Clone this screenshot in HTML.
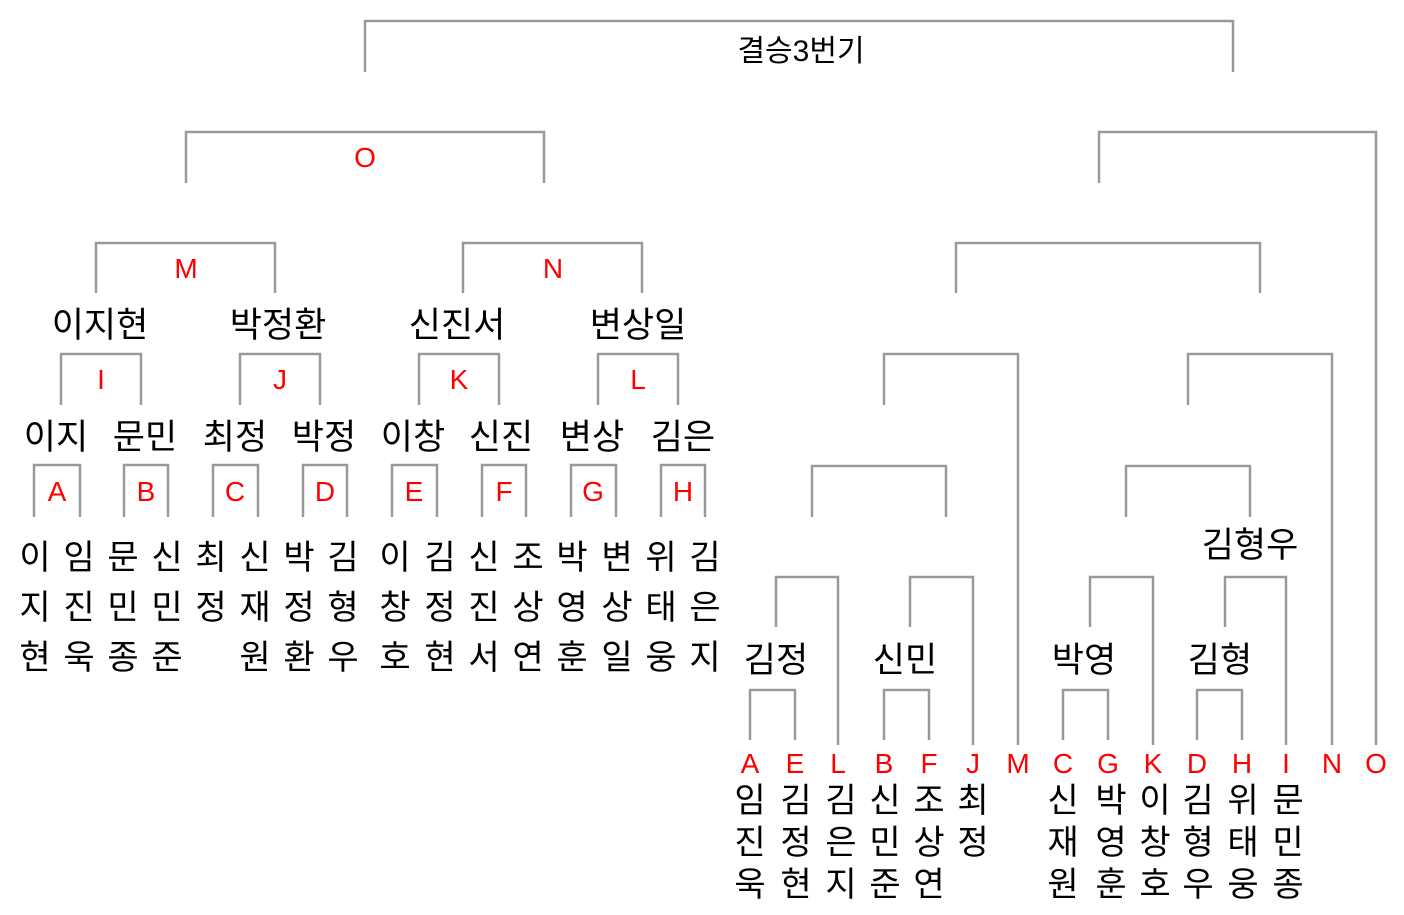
<!DOCTYPE html>
<html><head><meta charset="utf-8"><style>
html,body{margin:0;padding:0;background:#fff;width:1404px;height:915px;overflow:hidden}
svg{display:block}
.k{font-family:"Liberation Sans","Noto Sans CJK KR",sans-serif;fill:#000;text-anchor:middle}
.r{font-family:"Liberation Sans",sans-serif;fill:#f00;text-anchor:middle;font-size:28px}
path{fill:none;stroke:#999;stroke-width:2.5}
</style></head><body>
<svg width="1404" height="915" viewBox="0 0 1404 915" xmlns="http://www.w3.org/2000/svg">
<path d="M365 72V21H1233V72"/>
<text class="k" x="801" y="61" font-size="30">결승3번기</text>
<path d="M186 183V132H544V183"/>
<text class="r" x="365" y="167">O</text>
<path d="M1099 183V132H1376V745"/>
<path d="M96 293V243H275V293"/><text class="r" x="186" y="278">M</text>
<path d="M463 293V243H642V293"/><text class="r" x="553" y="278">N</text>
<path d="M956 293V243H1260V293"/>
<g class="k" font-size="35">
<text x="100" y="337">이지현</text><text x="278" y="337">박정환</text>
<text x="457" y="337">신진서</text><text x="638" y="337">변상일</text>
</g>
<path d="M61 405V354H141V405"/><text class="r" x="101" y="389">I</text>
<path d="M240 405V354H320V405"/><text class="r" x="280" y="389">J</text>
<path d="M419 405V354H499V405"/><text class="r" x="459" y="389">K</text>
<path d="M598 405V354H678V405"/><text class="r" x="638" y="389">L</text>
<path d="M884 405V354H1018V745"/>
<path d="M1188 405V354H1332V745"/>
<g class="k" font-size="35">
<text x="56" y="449">이지</text><text x="145" y="449">문민</text>
<text x="235" y="449">최정</text><text x="324" y="449">박정</text>
<text x="413" y="449">이창</text><text x="501" y="449">신진</text>
<text x="592" y="449">변상</text><text x="683" y="449">김은</text>
</g>
<path d="M34 517V465H80V517"/><text class="r" x="57" y="501">A</text>
<path d="M124 517V465H168V517"/><text class="r" x="146" y="501">B</text>
<path d="M213 517V465H258V517"/><text class="r" x="235" y="501">C</text>
<path d="M303 517V465H347V517"/><text class="r" x="325" y="501">D</text>
<path d="M392 517V465H437V517"/><text class="r" x="414" y="501">E</text>
<path d="M482 517V465H526V517"/><text class="r" x="504" y="501">F</text>
<path d="M571 517V465H616V517"/><text class="r" x="593" y="501">G</text>
<path d="M661 517V465H705V517"/><text class="r" x="683" y="501">H</text>
<path d="M812 517V466H946V517"/>
<path d="M1126 517V466H1250V517"/>
<text class="k" x="1250" y="557" font-size="35">김형우</text>
<path d="M776 627V577H838V745"/>
<path d="M910 627V577H973V745"/>
<path d="M1090 627V577H1153V745"/>
<path d="M1225 627V577H1286V745"/>
<g class="k" font-size="35">
<text x="776" y="672">김정</text><text x="905" y="672">신민</text>
<text x="1084" y="672">박영</text><text x="1220" y="672">김형</text>
</g>
<path d="M750 740V690H795V740"/>
<path d="M884 740V690H929V740"/>
<path d="M1063 740V690H1108V740"/>
<path d="M1197 740V690H1242V740"/>
<g class="r">
<text x="750" y="773">A</text><text x="795" y="773">E</text><text x="838" y="773">L</text>
<text x="884" y="773">B</text><text x="929" y="773">F</text><text x="973" y="773">J</text>
<text x="1018" y="773">M</text><text x="1063" y="773">C</text><text x="1108" y="773">G</text>
<text x="1153" y="773">K</text><text x="1197" y="773">D</text><text x="1242" y="773">H</text>
<text x="1286" y="773">I</text><text x="1332" y="773">N</text><text x="1376" y="773">O</text>
</g>
<g class="k" font-size="34">
<text x="35" y="569">이</text><text x="35" y="619">지</text><text x="35" y="669">현</text>
<text x="79" y="569">임</text><text x="79" y="619">진</text><text x="79" y="669">욱</text>
<text x="123" y="569">문</text><text x="123" y="619">민</text><text x="123" y="669">종</text>
<text x="167" y="569">신</text><text x="167" y="619">민</text><text x="167" y="669">준</text>
<text x="211" y="569">최</text><text x="211" y="619">정</text>
<text x="255" y="569">신</text><text x="255" y="619">재</text><text x="255" y="669">원</text>
<text x="299" y="569">박</text><text x="299" y="619">정</text><text x="299" y="669">환</text>
<text x="343" y="569">김</text><text x="343" y="619">형</text><text x="343" y="669">우</text>
<text x="395" y="569">이</text><text x="395" y="619">창</text><text x="395" y="669">호</text>
<text x="440" y="569">김</text><text x="440" y="619">정</text><text x="440" y="669">현</text>
<text x="484" y="569">신</text><text x="484" y="619">진</text><text x="484" y="669">서</text>
<text x="528" y="569">조</text><text x="528" y="619">상</text><text x="528" y="669">연</text>
<text x="572" y="569">박</text><text x="572" y="619">영</text><text x="572" y="669">훈</text>
<text x="617" y="569">변</text><text x="617" y="619">상</text><text x="617" y="669">일</text>
<text x="661" y="569">위</text><text x="661" y="619">태</text><text x="661" y="669">웅</text>
<text x="705" y="569">김</text><text x="705" y="619">은</text><text x="705" y="669">지</text>

<text x="750" y="812">임</text><text x="750" y="854">진</text><text x="750" y="896">욱</text>
<text x="796" y="812">김</text><text x="796" y="854">정</text><text x="796" y="896">현</text>
<text x="841" y="812">김</text><text x="841" y="854">은</text><text x="841" y="896">지</text>
<text x="885" y="812">신</text><text x="885" y="854">민</text><text x="885" y="896">준</text>
<text x="929" y="812">조</text><text x="929" y="854">상</text><text x="929" y="896">연</text>
<text x="973" y="812">최</text><text x="973" y="854">정</text>
<text x="1063" y="812">신</text><text x="1063" y="854">재</text><text x="1063" y="896">원</text>
<text x="1111" y="812">박</text><text x="1111" y="854">영</text><text x="1111" y="896">훈</text>
<text x="1155" y="812">이</text><text x="1155" y="854">창</text><text x="1155" y="896">호</text>
<text x="1198" y="812">김</text><text x="1198" y="854">형</text><text x="1198" y="896">우</text>
<text x="1243" y="812">위</text><text x="1243" y="854">태</text><text x="1243" y="896">웅</text>
<text x="1288" y="812">문</text><text x="1288" y="854">민</text><text x="1288" y="896">종</text>
</g>
</svg>
</body></html>
